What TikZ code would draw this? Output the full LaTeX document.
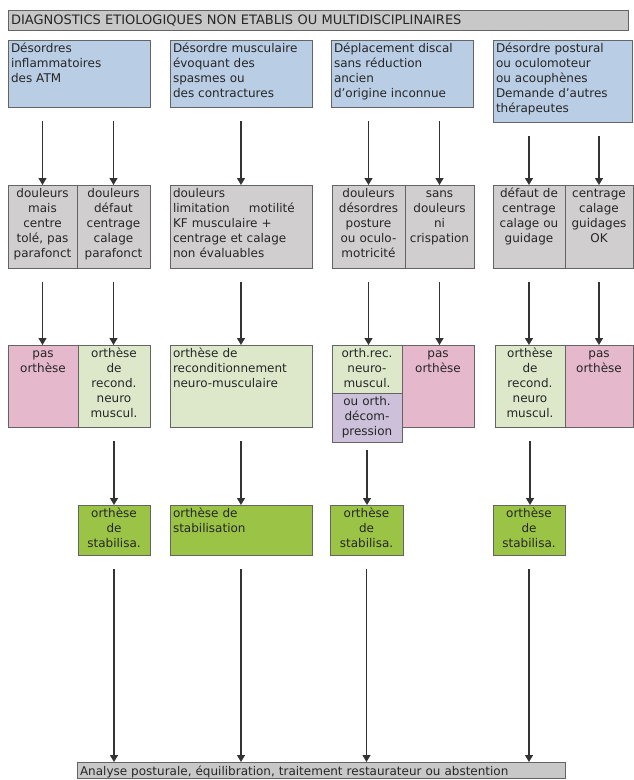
\documentclass[tikz,border=0pt]{standalone}
\usepackage{fontspec}
\setmainfont{DejaVu Sans}
\usetikzlibrary{arrows.meta}
\definecolor{entete}{RGB}{200,200,200}
\definecolor{bord}{RGB}{100,100,100}
\definecolor{bleu}{RGB}{185,205,229}
\definecolor{gris}{RGB}{208,206,206}
\definecolor{rose}{RGB}{230,184,204}
\definecolor{vertclair}{RGB}{221,232,203}
\definecolor{violet}{RGB}{204,192,218}
\definecolor{vertvif}{RGB}{155,196,70}

\begin{document}
\begin{tikzpicture}[x=1pt,y=-1pt,
  boite/.style={draw=bord,line width=0.9pt,inner xsep=3pt,inner ysep=2pt,outer sep=0pt,
    anchor=north west,text height=10pt,text=black!85,font=\fontsize{12}{15}\selectfont},
  gauche/.style={boite,align=left},
  centre/.style={boite,align=center},
  fleche/.style={draw=black!80,line width=1.4pt,-{Triangle[length=7pt,width=8pt]},shorten <=14pt}]
\useasboundingbox (0,0) rectangle (633,780);
%
% titre
%
\node[gauche,fill=entete,text width=614pt,text height=12pt,text depth=4pt,
  font=\fontsize{13}{15}\selectfont] (titre) at (8,10)
  {DIAGNOSTICS ETIOLOGIQUES NON ETABLIS OU MULTIDISCIPLINAIRES};
%
% diagnostics
%
\node[gauche,fill=bleu,text width=136pt,text depth=53pt] (diagA) at (8,40) {Désordres\\inflammatoires\\des ATM};
\node[gauche,fill=bleu,text width=136pt,text depth=53pt] (diagB) at (170,40) {Désordre musculaire\\évoquant des\\spasmes ou\\des contractures};
\node[gauche,fill=bleu,text width=136pt,text depth=53pt] (diagC) at (331,40) {Déplacement discal\\sans réduction\\ancien\\d'origine inconnue};
\node[gauche,fill=bleu,text width=133pt,text depth=68pt] (diagD) at (493,40) {Désordre postural\\ou oculomoteur\\ou acouphènes\\Demande d'autres\\thérapeutes};
%
% douleurs
%
\node[centre,fill=gris,text width=63pt,text depth=69pt] (dolA1) at (8,185) {douleurs\\mais\\centre\\tolé, pas\\parafonct};
\node[centre,fill=gris,text width=67pt,text depth=69pt] (dolA2) at (77,185) {douleurs\\défaut\\centrage\\calage\\parafonct};
\node[gauche,fill=gris,text width=136pt,text depth=69pt] (dolB) at (170,185) {douleurs\\limitation\hspace{1.6em}motilité\\KF musculaire +\\centrage et calage\\non évaluables};
\node[centre,fill=gris,text width=67pt,text depth=69pt] (dolC1) at (332,185) {douleurs\\désordres\\posture\\ou oculo-\\motricité};
\node[centre,fill=gris,text width=63pt,text depth=69pt] (dolC2) at (405,185) {sans\\douleurs\\ni\\crispation};
\node[centre,fill=gris,text width=66pt,text depth=69pt] (dolD1) at (493,185) {défaut de\\centrage\\calage ou\\guidage};
\node[centre,fill=gris,text width=62pt,text depth=69pt] (dolD2) at (565,185) {centrage\\calage\\guidages\\OK};
%
% ortheses
%
\node[centre,fill=rose,text width=64pt,text depth=68pt] (pasA) at (8,345) {pas\\orthèse};
\node[centre,fill=vertclair,text width=66pt,text depth=68pt] (recA) at (78,345) {orthèse\\de\\recond.\\neuro\\muscul.};
\node[gauche,fill=vertclair,text width=136pt,text depth=68pt] (recB) at (170,345) {orthèse de\\reconditionnement\\neuro-musculaire};
\node[centre,fill=vertclair,text width=64pt,text depth=34pt] (recC) at (332,345) {orth.rec.\\neuro-\\muscul.};
\node[centre,fill=violet,text width=64pt,text depth=35pt] (decC) at (332,393) {ou orth.\\décom-\\pression};
\node[centre,fill=rose,text width=66pt,text depth=68pt] (pasC) at (402,345) {pas\\orthèse};
\node[centre,fill=vertclair,text width=64pt,text depth=68pt] (recD) at (495,345) {orthèse\\de\\recond.\\neuro\\muscul.};
\node[centre,fill=rose,text width=62pt,text depth=68pt] (pasD) at (565,345) {pas\\orthèse};
%
% stabilisation
%
\node[centre,fill=vertvif,text width=66pt,text depth=36pt] (stabA) at (78,505) {orthèse\\de\\stabilisa.};
\node[gauche,fill=vertvif,text width=136pt,text depth=36pt] (stabB) at (170,505) {orthèse de\\stabilisation};
\node[centre,fill=vertvif,text width=67pt,text depth=36pt] (stabC) at (330,505) {orthèse\\de\\stabilisa.};
\node[centre,fill=vertvif,text width=66pt,text depth=36pt] (stabD) at (493,505) {orthèse\\de\\stabilisa.};
%
\node[gauche,fill=entete,text width=482pt,text height=11pt,text depth=1pt] (bilan) at (77,762)
  {Analyse posturale, équilibration, traitement restaurateur ou abstention};
%
% fleches
%
\draw[fleche] (diagA.south -| dolA1.north) -- (dolA1.north);
\draw[fleche] (diagA.south -| dolA2.north) -- (dolA2.north);
\draw[fleche] (diagB.south -| dolB.north) -- (dolB.north);
\draw[fleche] (diagC.south -| dolC1.north) -- (dolC1.north);
\draw[fleche] (diagC.south -| dolC2.north) -- (dolC2.north);
\draw[fleche] (diagD.south -| dolD1.north) -- (dolD1.north);
\draw[fleche] (diagD.south -| dolD2.north) -- (dolD2.north);
%
\draw[fleche] (dolA1.south) -- (dolA1.south |- pasA.north);
\draw[fleche] (dolA2.south) -- (dolA2.south |- recA.north);
\draw[fleche] (dolB.south) -- (dolB.south |- recB.north);
\draw[fleche] (dolC1.south) -- (dolC1.south |- recC.north);
\draw[fleche] (dolC2.south) -- (dolC2.south |- pasC.north);
\draw[fleche] (dolD1.south) -- (dolD1.south |- recD.north);
\draw[fleche] (dolD2.south) -- (dolD2.south |- pasD.north);
%
\draw[fleche] (recA.south) -- (recA.south |- stabA.north);
\draw[fleche] (recB.south) -- (recB.south |- stabB.north);
\draw[fleche,shorten <=8pt] (decC.south) -- (decC.south |- stabC.north);
\draw[fleche] (recD.south) -- (recD.south |- stabD.north);
%
\draw[fleche] (stabA.south) -- (stabA.south |- bilan.north);
\draw[fleche] (stabB.south) -- (stabB.south |- bilan.north);
\draw[fleche] (stabC.south) -- (stabC.south |- bilan.north);
\draw[fleche] (stabD.south) -- (stabD.south |- bilan.north);
\end{tikzpicture}
\end{document}
